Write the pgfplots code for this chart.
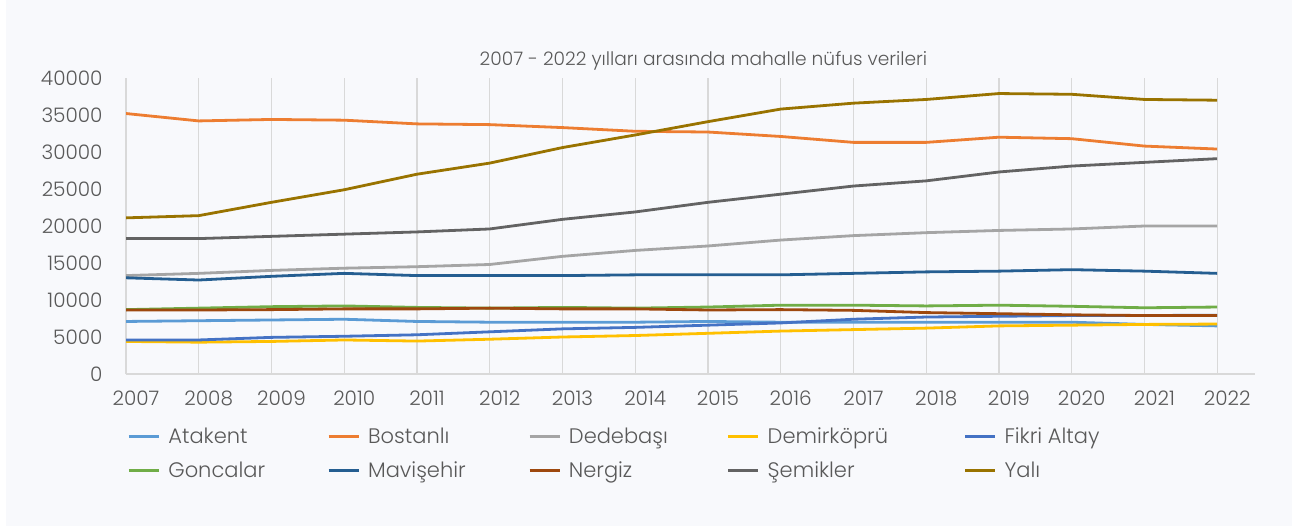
\documentclass[border=0pt]{standalone}
\usepackage{fontspec}
\setmainfont{Poppins}[UprightFont={* Light}]
\usepackage{pgfplots}
\usepackage{pgfplotstable}
\pgfplotsset{compat=1.18}
\definecolor{panel}{HTML}{F8F9FC}
\definecolor{txt}{HTML}{595959}
\definecolor{gridc}{HTML}{D9D9D9}
\definecolor{cAtakent}{HTML}{5B9BD5}
\definecolor{cBostanli}{HTML}{ED7D31}
\definecolor{cDedebasi}{HTML}{A5A5A5}
\definecolor{cDemirkopru}{HTML}{FFC000}
\definecolor{cFikri}{HTML}{4472C4}
\definecolor{cGoncalar}{HTML}{70AD47}
\definecolor{cMavisehir}{HTML}{255E91}
\definecolor{cNergiz}{HTML}{9E480E}
\definecolor{cSemikler}{HTML}{636363}
\definecolor{cYali}{HTML}{997300}

% mahalle nüfusları, 2007-2022
\pgfplotstableread{
yil  atakent bostanli dedebasi demirkopru fikri goncalar mavisehir nergiz semikler yali
2007 7100 35200 13300 4400 4600 8700 13000 8650 18300 21100
2008 7200 34200 13600 4300 4600 8900 12700 8650 18300 21400
2009 7300 34400 14000 4400 4950 9100 13200 8700 18600 23200
2010 7400 34300 14300 4600 5100 9200 13600 8800 18900 24900
2011 7100 33800 14500 4450 5300 9000 13300 8800 19200 27000
2012 7000 33700 14800 4700 5700 8900 13300 8900 19600 28500
2013 7000 33300 15900 5000 6100 9000 13300 8800 20900 30600
2014 7000 32800 16700 5200 6300 8900 13400 8800 21900 32300
2015 7100 32700 17300 5500 6600 9050 13400 8650 23200 34100
2016 7000 32100 18100 5800 6900 9300 13400 8700 24300 35800
2017 7000 31300 18700 6000 7400 9300 13600 8600 25400 36600
2018 7000 31300 19100 6200 7700 9200 13800 8300 26100 37100
2019 7000 32000 19400 6500 7800 9300 13900 8150 27300 37900
2020 7000 31800 19600 6600 7900 9150 14100 8000 28100 37800
2021 6700 30800 20000 6700 7900 8950 13900 7900 28600 37100
2022 6500 30400 20000 6750 7950 9050 13600 7900 29100 37000
}\nufus

\newcommand{\leg}[2]{\makebox[#1][l]{\hspace{4pt}\rule[-4pt]{0pt}{17pt}#2}}

\begin{document}
\begin{tikzpicture}
\fill[white] (0,0) rectangle (646pt,263pt);
\fill[panel] (3pt,0) rectangle (646pt,263pt);
\begin{axis}[
  at={(63pt,76pt)}, anchor=south west,
  scale only axis,
  width=564.5pt, height=148pt,
  xmin=2007, xmax=2022.52,
  ymin=0, ymax=40000,
  xtick={2007,2008,...,2022},
  ytick={0,5000,...,40000},
  scaled y ticks=false,
  axis x line*=bottom, axis y line*=left,
  y axis line style={draw=none},
  x axis line style={draw=gridc, line width=0.9pt},
  major tick length=0pt,
  xmajorgrids,
  grid style={draw=gridc, line width=0.6pt},
  /pgf/number format/assume math mode=true,
  /pgf/number format/set thousands separator={},
  tick label style={font=\fontsize{10}{12}\selectfont, text=txt},
  yticklabel style={anchor=east, xshift=-8.2pt},
  xticklabel style={anchor=north, yshift=-4.7pt, xshift=5pt},
  title={2007 - 2022 yılları arasında mahalle nüfus verileri},
  every axis title shift=0pt,
  title style={at={(axis description cs:0.5115,1)}, anchor=base, yshift=6.5pt,
    font=\fontsize{9.3}{11}\selectfont, text=txt},
  every axis plot/.append style={line width=1.4pt, line join=round},
  legend columns=5,
  legend cell align=left,
  legend image code/.code={
    \path[draw=none, fill=none] (0pt,-9.5pt) rectangle (15pt,7.5pt);
    \draw[#1] (0pt,-2pt) -- (15pt,-2pt);},
  legend style={at={(0.001,-0.1453)}, anchor=north west, draw=none, fill=none,
    inner sep=0pt, nodes={inner sep=0pt, text=txt},
    font=\fontsize{10.5}{12}\selectfont, row sep=0pt, column sep=0pt},
]
\addplot[cAtakent] table[x=yil, y=atakent] {\nufus};
\addlegendentry{\leg{83.5pt}{Atakent}}
\addplot[cBostanli] table[x=yil, y=bostanli] {\nufus};
\addlegendentry{\leg{84pt}{Bostanlı}}
\addplot[cDedebasi] table[x=yil, y=dedebasi] {\nufus};
\addlegendentry{\leg{83pt}{Dedebaşı}}
\addplot[cDemirkopru] table[x=yil, y=demirkopru] {\nufus};
\addlegendentry{\leg{102pt}{Demirköprü}}
\addplot[cFikri] table[x=yil, y=fikri] {\nufus};
\addlegendentry{\leg{60pt}{Fikri Altay}}
\addplot[cGoncalar] table[x=yil, y=goncalar] {\nufus};
\addlegendentry{\leg{83.5pt}{Goncalar}}
\addplot[cMavisehir] table[x=yil, y=mavisehir] {\nufus};
\addlegendentry{\leg{84pt}{Mavişehir}}
\addplot[cNergiz] table[x=yil, y=nergiz] {\nufus};
\addlegendentry{\leg{83pt}{Nergiz}}
\addplot[cSemikler] table[x=yil, y=semikler] {\nufus};
\addlegendentry{\leg{102pt}{Şemikler}}
\addplot[cYali] table[x=yil, y=yali] {\nufus};
\addlegendentry{\leg{60pt}{Yalı}}
\end{axis}
\pgfresetboundingbox
\path (0,0) rectangle (646pt,263pt);
\end{tikzpicture}
\end{document}
